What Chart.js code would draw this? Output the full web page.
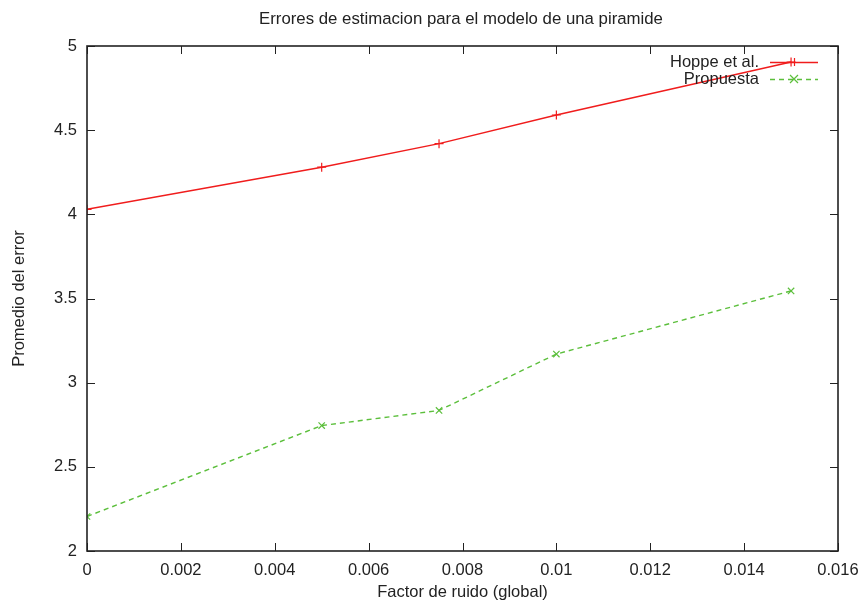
<!DOCTYPE html>
<html>
<head>
<meta charset="utf-8">
<script src="https://cdn.jsdelivr.net/npm/chart.js@4.4.1/dist/chart.umd.min.js"></script>
<style>
  html, body { margin: 0; padding: 0; background: #fff; }
  #wrap { width: 864px; height: 606px; }
</style>
</head>
<body>
<div id="wrap"><canvas id="c" width="864" height="606"></canvas></div>
<script>
// Noise factor (global) on the x axis
const noiseFactor = [0, 0.005, 0.0075, 0.01, 0.015];
// Mean error for each method
const hoppeError = [4.03, 4.28, 4.42, 4.59, 4.905];
const propuestaError = [2.205, 2.745, 2.835, 3.17, 3.545];
const seriesNames = ['Hoppe et al.', 'Propuesta'];
const chartTitle = 'Errores de estimacion para el modelo de una piramide';
const xTitle = 'Factor de ruido (global)';
const yTitle = 'Promedio del error';

const FONT = '"Liberation Sans", Arial, Helvetica, sans-serif';
const INK = '#222222';
const FS = 16.5;

function toPoints(xs, ys) { return xs.map((x, i) => ({ x: x, y: ys[i] })); }

// Inward tick marks on all four sides, the frame, the title and a gnuplot-style key
const frameAndKey = {
  id: 'frameAndKey',
  afterDatasetsDraw(chart) {
    const { ctx, chartArea: a, scales } = chart;
    ctx.save();
    ctx.strokeStyle = INK;
    ctx.lineWidth = 1;
    const tl = 8;
    scales.x.ticks.forEach(t => {
      const px = Math.round(scales.x.getPixelForValue(t.value)) + 0.5;
      ctx.beginPath();
      ctx.moveTo(px, a.bottom); ctx.lineTo(px, a.bottom - tl);
      ctx.moveTo(px, a.top); ctx.lineTo(px, a.top + tl);
      ctx.stroke();
    });
    scales.y.ticks.forEach(t => {
      const py = Math.round(scales.y.getPixelForValue(t.value)) + 0.5;
      ctx.beginPath();
      ctx.moveTo(a.left, py); ctx.lineTo(a.left + tl, py);
      ctx.moveTo(a.right, py); ctx.lineTo(a.right - tl, py);
      ctx.stroke();
    });
    ctx.lineWidth = 1.6;
    ctx.strokeRect(a.left, a.top, a.right - a.left, a.bottom - a.top);

    // title
    ctx.fillStyle = INK;
    ctx.font = '16.8px ' + FONT;
    ctx.textAlign = 'center';
    ctx.textBaseline = 'middle';
    ctx.fillText(chartTitle, 461, 19);

    // key
    ctx.font = FS + 'px ' + FONT;
    ctx.textAlign = 'right';
    chart.data.datasets.forEach((ds, i) => {
      const y = 62 + i * 17;
      ctx.fillStyle = INK;
      ctx.fillText(ds.label, 759, y);
      ctx.strokeStyle = ds.borderColor;
      ctx.lineWidth = ds.borderWidth;
      ctx.setLineDash(ds.borderDash || []);
      ctx.beginPath();
      ctx.moveTo(770, y + 0.5); ctx.lineTo(818, y + 0.5);
      ctx.stroke();
      ctx.setLineDash([]);
      const r = 4, cx = 794;
      ctx.lineWidth = 1.2;
      ctx.beginPath();
      if (ds.pointStyle === 'cross') {
        ctx.moveTo(cx - r, y + 0.5); ctx.lineTo(cx + r, y + 0.5);
        ctx.moveTo(cx + 0.5, y - r); ctx.lineTo(cx + 0.5, y + r);
      } else {
        ctx.moveTo(cx - r, y - r); ctx.lineTo(cx + r, y + r);
        ctx.moveTo(cx - r, y + r); ctx.lineTo(cx + r, y - r);
      }
      ctx.stroke();
    });
    ctx.restore();
  }
};

new Chart(document.getElementById('c'), {
  type: 'scatter',
  data: {
    datasets: [
      {
        label: seriesNames[0],
        data: toPoints(noiseFactor, hoppeError),
        showLine: true,
        borderColor: '#f01c1c',
        borderWidth: 1.4,
        pointStyle: 'cross',
        pointRadius: 4.5,
        pointBorderWidth: 1.2,
        pointBorderColor: '#f01c1c',
        pointBackgroundColor: '#f01c1c'
      },
      {
        label: seriesNames[1],
        data: toPoints(noiseFactor, propuestaError),
        showLine: true,
        borderColor: '#5cbf3c',
        borderWidth: 1.4,
        borderDash: [5, 4],
        pointStyle: 'crossRot',
        pointRadius: 4.5,
        pointBorderWidth: 1.2,
        pointBorderColor: '#5cbf3c',
        pointBackgroundColor: '#5cbf3c'
      }
    ]
  },
  options: {
    responsive: false,
    animation: false,
    devicePixelRatio: 1,
    layout: { padding: { left: 0, top: 46, right: 26, bottom: 0 } },
    plugins: {
      legend: { display: false },
      title: { display: false },
      tooltip: { enabled: false }
    },
    scales: {
      x: {
        type: 'linear',
        min: 0,
        max: 0.016,
        grid: { display: false, drawTicks: false },
        border: { display: false },
        afterFit(s) { s.height = 55; s.paddingRight = 0; s.paddingLeft = 0; },
        afterBuildTicks(s) {
          const t = [];
          for (let i = 0; i <= 8; i++) t.push({ value: +(i * 0.002).toFixed(3) });
          s.ticks = t;
        },
        ticks: {
          padding: 10,
          color: INK,
          font: { family: FONT, size: FS },
          maxRotation: 0,
          callback: v => String(+v.toFixed(3))
        },
        title: {
          display: true,
          text: xTitle,
          color: INK,
          font: { family: FONT, size: FS },
          padding: { top: 0, bottom: 4 }
        }
      },
      y: {
        type: 'linear',
        min: 2,
        max: 5,
        grid: { display: false, drawTicks: false },
        border: { display: false },
        afterFit(s) { s.width = 87; s.paddingTop = 0; s.paddingBottom = 0; },
        ticks: {
          stepSize: 0.5,
          padding: 10,
          color: INK,
          font: { family: FONT, size: FS },
          callback: v => String(v)
        },
        title: {
          display: true,
          text: yTitle,
          color: INK,
          font: { family: FONT, size: FS },
          padding: { top: 10, bottom: 0 }
        }
      }
    }
  },
  plugins: [frameAndKey]
});
</script>
</body>
</html>
